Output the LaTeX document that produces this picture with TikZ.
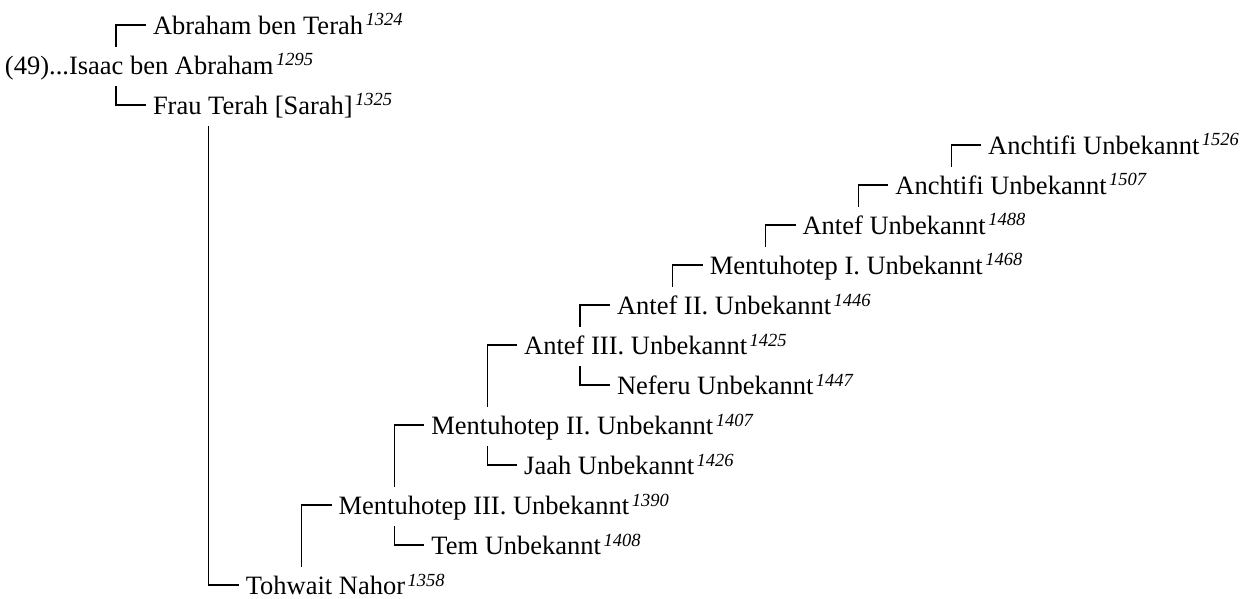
\documentclass[tikz,border=0pt]{standalone}
\usepackage{fontspec}
\setmainfont{Liberation Serif}
\usetikzlibrary{calc}
\newcommand{\yr}[1]{\kern2.5pt\raisebox{8.5pt}{\fontsize{18.5}{18.5}\selectfont\itshape #1}}
\tikzset{
  person/.style={anchor=base west, inner sep=0pt, outer sep=0pt, font=\fontsize{26.5}{30}\selectfont},
  conn/.style={line width=1.2pt, black}
}
% #1 child, #2 parent, #3 offset of vertical end from parent's baseline
\newcommand{\famlink}[3]{\draw[conn] let \p1=(#1.base west), \p2=(#2.base) in
  (\x1-7pt,\y1+9.5pt) -- (\x1-37pt,\y1+9.5pt) -- (\x1-37pt,\y2+#3);}
\begin{document}
\begin{tikzpicture}[x=1pt,y=1pt]
\useasboundingbox (0,0) rectangle (1242,598);
\node[person] (abraham) at (153,563.5) {Abraham ben Terah\yr{1324}};
\node[person] (isaac)   at (5,523.5)   {(49)...Isaac ben Abraham\yr{1295}};
\node[person] (frau)    at (153,483.5) {Frau Terah [Sarah]\yr{1325}};
\node[person] (anch26)  at (988.2,443.5) {Anchtifi Unbekannt\yr{1526}};
\node[person] (anch07)  at (895.4,403.5) {Anchtifi Unbekannt\yr{1507}};
\node[person] (antef)   at (802.6,363.5) {Antef Unbekannt\yr{1488}};
\node[person] (mentI)   at (709.8,323.5) {Mentuhotep I. Unbekannt\yr{1468}};
\node[person] (antefII) at (617,283.5) {Antef II. Unbekannt\yr{1446}};
\node[person] (antefIII) at (524.2,243.5) {Antef III. Unbekannt\yr{1425}};
\node[person] (neferu)  at (617,203.5) {Neferu Unbekannt\yr{1447}};
\node[person] (mentII)  at (431.4,163.5) {Mentuhotep II. Unbekannt\yr{1407}};
\node[person] (jaah)    at (524.2,123.5) {Jaah Unbekannt\yr{1426}};
\node[person] (mentIII) at (338.6,83.5) {Mentuhotep III. Unbekannt\yr{1390}};
\node[person] (tem)     at (431.4,43.5) {Tem Unbekannt\yr{1408}};
\node[person] (tohwait) at (245.8,3.5) {Tohwait Nahor\yr{1358}};
\famlink{abraham}{isaac}{27.5pt}
\famlink{frau}{isaac}{-11.5pt}
\famlink{tohwait}{frau}{-11.5pt}
\famlink{mentIII}{tohwait}{27.5pt}
\famlink{tem}{mentIII}{-11.5pt}
\famlink{mentII}{mentIII}{27.5pt}
\famlink{jaah}{mentII}{-11.5pt}
\famlink{antefIII}{mentII}{27.5pt}
\famlink{neferu}{antefIII}{-11.5pt}
\famlink{antefII}{antefIII}{27.5pt}
\famlink{mentI}{antefII}{27.5pt}
\famlink{antef}{mentI}{27.5pt}
\famlink{anch07}{antef}{27.5pt}
\famlink{anch26}{anch07}{27.5pt}
\end{tikzpicture}
\end{document}
